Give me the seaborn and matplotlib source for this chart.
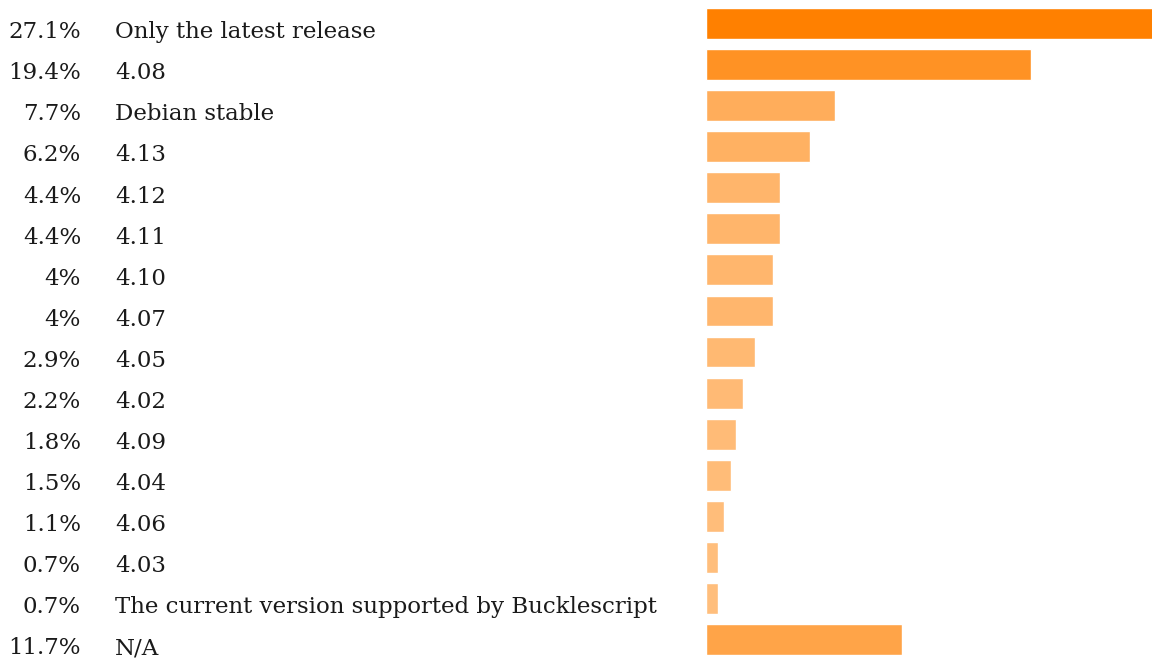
import numpy as np
import pandas as pd
import matplotlib
matplotlib.use('Agg')
import matplotlib.pyplot as plt
import matplotlib.transforms as mtransforms
import seaborn as sns

# 응답 항목 / 비율(%)
answers = ['Only the latest release', '4.08', 'Debian stable', '4.13', '4.12', '4.11',
           '4.10', '4.07', '4.05', '4.02', '4.09', '4.04', '4.06', '4.03',
           'The current version supported by Bucklescript', 'N/A']
percent = [27.1, 19.4, 7.7, 6.2, 4.4, 4.4, 4.0, 4.0, 2.9, 2.2, 1.8, 1.5, 1.1, 0.7, 0.7, 11.7]

df = pd.DataFrame({'answer': answers, 'percent': percent})

sns.set_style('white')
plt.rcParams['font.family'] = ['DejaVu Serif']

# 값이 클수록 진한 주황색 (흰색과 섞음)
vmax = max(percent)
base = np.array([1.0, 128 / 255, 0.0])
colors = []
for v in percent:
    a = 0.5 + 0.5 * v / vmax
    colors.append(tuple(base * a + (1 - a)))

fig = plt.figure(figsize=(11.52, 6.58), dpi=100)
ax = fig.add_axes([706 / 1152, 1 - 655 / 658, 1 - 706 / 1152, (655 - 8) / 658])
sns.barplot(data=df, x='percent', y='answer', hue='answer', palette=colors,
            width=0.75, legend=False, ax=ax, saturation=1)
ax.set_xlim(0, 26.6)  # 맨 위 막대는 오른쪽 끝까지
ax.set_ylim(len(answers) - 1 + 0.375, -0.375)
ax.axis('off')

# 왼쪽 글자: 비율과 항목 이름
trans = mtransforms.blended_transform_factory(fig.transFigure, ax.transData)
for i, (a, v) in enumerate(zip(answers, percent)):
    ax.text(81 / 1152, i + 0.36, f'{v:g}%', transform=trans, ha='right', va='baseline',
            fontsize=16.5, color='#1a1a1a')
    ax.text(115 / 1152, i + 0.36, a, transform=trans, ha='left', va='baseline',
            fontsize=16.5, color='#1a1a1a')

fig.savefig('out.png', dpi=100)
